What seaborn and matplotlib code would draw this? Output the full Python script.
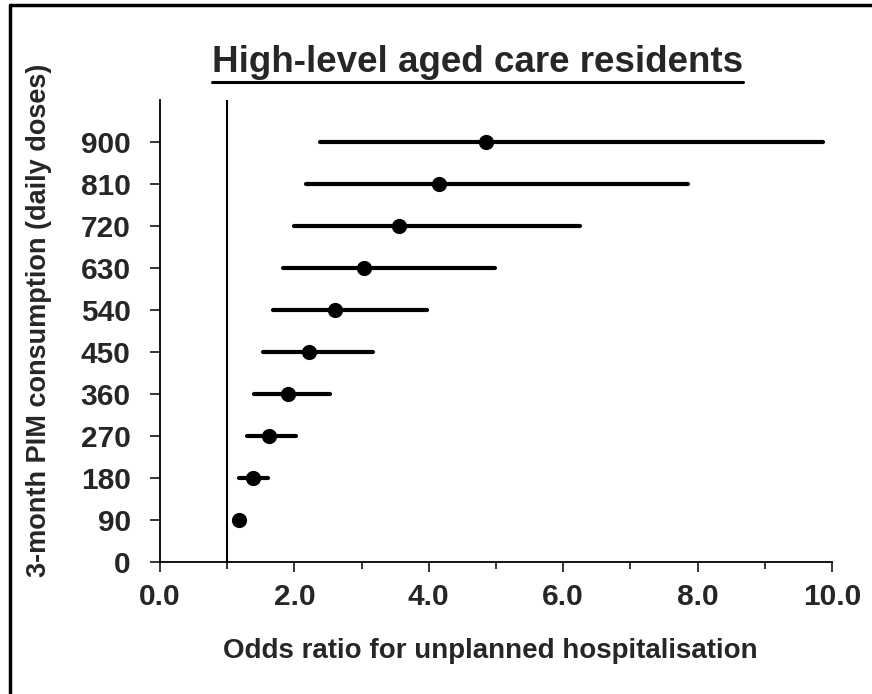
import matplotlib
matplotlib.use('Agg')
import matplotlib.pyplot as plt
from matplotlib.lines import Line2D
from matplotlib.ticker import MultipleLocator
import numpy as np
import pandas as pd
import seaborn as sns

# data
doses = [90, 180, 270, 360, 450, 540, 630, 720, 810, 900]
odds_ratio = [1.18, 1.38, 1.62, 1.90, 2.21, 2.60, 3.03, 3.55, 4.15, 4.85]
ci_low = [1.13, 1.18, 1.29, 1.40, 1.53, 1.68, 1.83, 2.00, 2.18, 2.38]
ci_high = [1.23, 1.61, 2.02, 2.53, 3.17, 3.97, 4.99, 6.25, 7.86, 9.86]
x_ticks = [0, 2, 4, 6, 8, 10]
y_ticks = [0, 90, 180, 270, 360, 450, 540, 630, 720, 810, 900]

df = pd.DataFrame({'dose': doses, 'or': odds_ratio, 'lo': ci_low, 'hi': ci_high})

sns.set_style('ticks')
plt.rcParams['font.family'] = ['Liberation Sans', 'DejaVu Sans']
plt.rcParams['font.weight'] = 'bold'

fig = plt.figure(figsize=(8.72, 6.94), dpi=100)
ax = fig.add_axes([0.1835, 0.1902, 0.7706, 0.6657])

# confidence intervals
ax.hlines(df['dose'], df['lo'], df['hi'], color='black', linewidth=3.0, capstyle='round', zorder=2)
# point estimates
sns.scatterplot(data=df, x='or', y='dose', ax=ax, color='black', s=120, edgecolor='black',
                linewidth=0, zorder=3, legend=False)

# reference line at OR = 1
ax.axvline(1, color='black', linewidth=1.5, zorder=1)

ax.set_xlim(0, 10)
ax.set_ylim(0, 990)
ax.set_xticks(x_ticks)
ax.set_xticklabels([f'{v:.1f}' for v in x_ticks])
ax.xaxis.set_minor_locator(MultipleLocator(1))
ax.set_yticks(y_ticks)
ax.set_yticklabels([str(v) for v in y_ticks])

ax.tick_params(axis='x', which='major', direction='out', length=7, width=1.3, labelsize=21.5, pad=8)
ax.tick_params(axis='x', which='minor', direction='out', length=5, width=1.3)
ax.tick_params(axis='y', direction='out', length=7, width=1.3, labelsize=21.5, pad=14)
for lbl in ax.get_xticklabels() + ax.get_yticklabels():
    lbl.set_fontweight('bold')

sns.despine(ax=ax)
for sp in ['left', 'bottom']:
    ax.spines[sp].set_linewidth(1.3)
    ax.spines[sp].set_color('black')

ax.set_xlabel('Odds ratio for unplanned hospitalisation', fontsize=20, fontweight='bold')
ax.xaxis.set_label_coords(0.491, -0.165)
ax.set_ylabel('3-month PIM consumption (daily doses)', fontsize=19.5, fontweight='bold')
ax.yaxis.set_label_coords(-0.16, 0.524)

# underlined title
title = fig.text(0.548, 0.896, 'High-level aged care residents', ha='center', va='baseline',
                 fontsize=26.5, fontweight='bold')
fig.canvas.draw()
bb = title.get_window_extent().transformed(fig.transFigure.inverted())
fig.add_artist(Line2D([bb.x0, bb.x1], [0.882, 0.882], color='black', linewidth=2.2))

# frame pieces visible in the crop
fig.add_artist(Line2D([0.011, 1.0], [0.993, 0.993], color='black', linewidth=2.5))
fig.add_artist(Line2D([0.012, 0.012], [0.0, 0.993], color='black', linewidth=2.5))

fig.savefig('out.png', dpi=100)
